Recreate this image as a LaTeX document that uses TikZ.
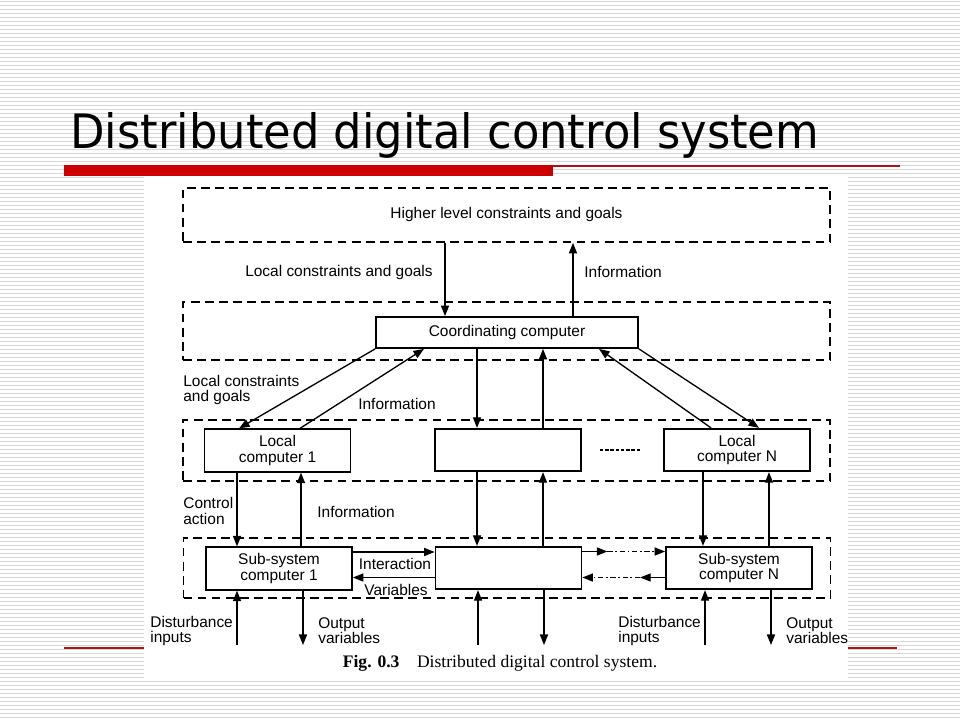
\documentclass[tikz,border=0pt]{standalone}
\usepackage{graphicx}
\usepackage{fontspec}
\setmainfont{Liberation Sans}
\newfontfamily\titlefont{DejaVu Sans}
\newfontfamily\capfont{Liberation Serif}
\usetikzlibrary{arrows.meta}
\definecolor{slidered}{RGB}{204,0,0}
\definecolor{rulered}{RGB}{170,20,20}
\definecolor{stripegray}{RGB}{214,214,214}
\newcommand{\figfont}{\fontsize{8.8}{8.6}\selectfont}
\tikzstyle{zone}=[draw,dash pattern=on 5pt off 3pt,line width=1pt,minimum width=12.94cm,inner sep=0pt,font=\figfont]
\tikzstyle{box}=[draw,line width=1pt,minimum width=2.92cm,minimum height=0.85cm,align=center,font=\figfont,inner sep=0pt]
\tikzstyle{lbl}=[align=left,font=\figfont,inner sep=0pt]
\tikzstyle{arr}=[-{Triangle[length=6pt,width=4.6pt]},line width=0.75pt]

\begin{document}
\begin{tikzpicture}[x=0.02cm,y=-0.02cm]
\useasboundingbox (0,0) rectangle (960,720);
			% slide background
			\fill[white] (0,0) rectangle (960,720);
			\foreach \y in {1.5,5.5,...,719.5}
				\draw[stripegray,line width=0.6pt] (0,\y) -- (960,\y);
			\fill[white] (144,177) rectangle (848,679);
			\fill[slidered] (64,165) rectangle (553,176);
			\draw[rulered,line width=0.6pt] (553,166) -- (900,166);
			\draw[rulered,line width=0.6pt] (64,648) -- (144,648);
			\draw[rulered,line width=0.6pt] (848,648) -- (897,648);
			\node[anchor=base west,inner sep=0pt,font=\titlefont\fontsize{27}{30}\selectfont] (title) at (70,148) {\scalebox{0.945}[1]{Distributed digital control system}};
			% levels
			\node[zone,minimum height=1.08cm] (hl) at (506.5,215) {Higher level constraints and goals};
			\node[zone,minimum height=1.16cm] (cz) at (506.5,331) {};
			\node[zone,minimum height=1.22cm] (lz) at (506.5,450.5) {};
			\node[zone,minimum height=1.2cm] (sz) at (507,568) {};
			% computers
			\node[box,fill=white,minimum width=5.24cm,minimum height=0.62cm] (cc) at (507,332.5) {Coordinating computer};
			\node[box,fill=white] (lc1) at (277.5,450.5) {Local\\computer 1};
			\node[box,fill=white] (lc0) at (508,450) {};
			\node[box,fill=white] (lcn) at (737,450) {Local\\computer N};
			\node[box,fill=white] (sc1) at (279,568.5) {Sub-system\\computer 1};
			\node[box,fill=white] (sc0) at (508.5,568) {};
			\node[box,fill=white] (scn) at (739,568) {Sub-system\\computer N};
			\draw[dash pattern=on 2pt off 1pt,line width=0.8pt] ([xshift=0.36cm]lc0.east) -- ([xshift=-0.46cm]lcn.west);
			% top level
			\draw[arr] ([xshift=-1.24cm]cc.north |- hl.south) -- ([xshift=-1.24cm]cc.north);
			\draw[arr] ([xshift=1.32cm]cc.north) -- ([xshift=1.32cm]cc.north |- hl.south);
			\node[lbl,anchor=east] (lcg1) at (433,272) {Local constraints and goals};
			\node[lbl,anchor=west] (inf1) at (584,272) {Information};
			% coordinating to local
			\draw[arr] (cc.south west) -- ([xshift=-0.77cm]lc1.north);
			\draw[arr] ([xshift=0.45cm]lc1.north) -- ([xshift=-1.66cm]cc.south);
			\draw[arr] ([xshift=-0.6cm]cc.south) -- ([xshift=-0.6cm]cc.south |- lc0.north);
			\draw[arr] ([xshift=0.72cm]cc.south |- lc0.north) -- ([xshift=0.72cm]cc.south);
			\draw[arr] ([xshift=-0.52cm]lcn.north) -- ([xshift=1.84cm]cc.south);
			\draw[arr] (cc.south east) -- ([xshift=0.44cm]lcn.north);
			\node[lbl,anchor=west] (lcg2) at (183,390) {Local constraints\\and goals};
			\node[lbl] (inf2) at (397,404) {Information};
			% local to sub-system
			\draw[arr] ([xshift=-0.81cm]lc1.south) -- ([xshift=-0.81cm]lc1.south |- sc1.north);
			\draw[arr] ([xshift=0.47cm]lc1.south |- sc1.north) -- ([xshift=0.47cm]lc1.south);
			\draw[arr] ([xshift=-0.62cm]lc0.south) -- ([xshift=-0.62cm]lc0.south |- sc0.north);
			\draw[arr] ([xshift=0.7cm]lc0.south |- sc0.north) -- ([xshift=0.7cm]lc0.south);
			\draw[arr] ([xshift=-0.68cm]lcn.south) -- ([xshift=-0.68cm]lcn.south |- scn.north);
			\draw[arr] ([xshift=0.64cm]lcn.south |- scn.north) -- ([xshift=0.64cm]lcn.south);
			\node[lbl,anchor=west] (ctl) at (183,511) {Control\\action};
			\node[lbl,anchor=west] (inf3) at (317,512) {Information};
			% interaction variables
			\draw[arr] ([yshift=0.33cm]sc1.east) -- ([yshift=0.33cm]sc1.east -| sc0.west);
			\draw[arr] ([yshift=-0.19cm]sc0.west) -- ([yshift=-0.19cm]sc0.west -| sc1.east);
			\draw[arr] ([yshift=0.33cm]sc0.east) -- ++(0.5cm,0) coordinate (mr1);
			\draw[arr,dash pattern=on 3pt off 1.5pt on 1pt off 1.5pt] (mr1) -- (mr1 -| scn.west);
			\draw[arr] ([yshift=-0.19cm]scn.west) -- ++(-0.5cm,0) coordinate (mr2);
			\draw[arr,dash pattern=on 3pt off 1.5pt on 1pt off 1.5pt] (mr2) -- (mr2 -| sc0.east);
			\node[lbl] (intr) at (395,564) {Interaction};
			\node[lbl] (vars) at (396,590) {Variables};
			% inputs and outputs
			\coordinate (bot) at (0,645);
			\draw[arr] ([xshift=-0.84cm]sc1.south |- bot) -- ([xshift=-0.84cm]sc1.south);
			\draw[arr] ([xshift=0.48cm]sc1.south) -- ([xshift=0.48cm]sc1.south |- bot);
			\draw[arr] ([xshift=-0.61cm]sc0.south |- bot) -- ([xshift=-0.61cm]sc0.south);
			\draw[arr] ([xshift=0.71cm]sc0.south) -- ([xshift=0.71cm]sc0.south |- bot);
			\draw[arr] ([xshift=-0.68cm]scn.south |- bot) -- ([xshift=-0.68cm]scn.south);
			\draw[arr] ([xshift=0.64cm]scn.south) -- ([xshift=0.64cm]scn.south |- bot);
			\node[lbl,anchor=west] (dis1) at (150,631) {Disturbance\\inputs};
			\node[lbl,anchor=west] (out1) at (318,631) {Output\\variables};
			\node[lbl,anchor=west] (dis2) at (618,631) {Disturbance\\inputs};
			\node[lbl,anchor=west] (out2) at (786,631) {Output\\variables};
			\node[font=\capfont\fontsize{10}{11}\selectfont] (cap) at (500,663) {\textbf{Fig. 0.3}\quad Distributed digital control system.};
		\end{tikzpicture}
\end{document}
